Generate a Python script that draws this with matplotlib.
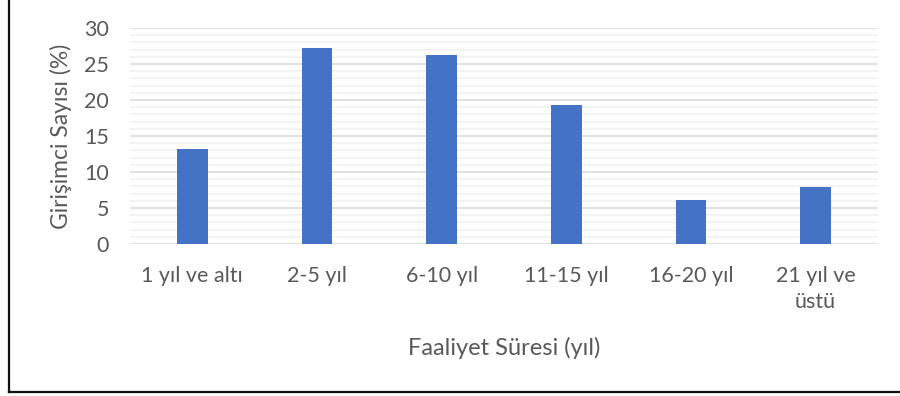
import numpy as np
import matplotlib.pyplot as plt
from matplotlib.lines import Line2D
from matplotlib.ticker import MultipleLocator

plt.rcParams['font.family'] = ['Lato', 'DejaVu Sans']

categories = ["1 yıl ve altı", "2-5 yıl", "6-10 yıl", "11-15 yıl", "16-20 yıl", "21 yıl ve\nüstü"]
values = [13.2, 27.2, 26.3, 19.3, 6.1, 7.9]

text_color = "#595959"

fig = plt.figure(figsize=(9, 3.96), dpi=100)
ax = fig.add_axes([130 / 900, 152 / 396, 748 / 900, 216 / 396])

x = np.arange(len(categories))
ax.bar(x, values, width=0.245, color="#4472C4", zorder=3)

ax.set_xlim(-0.5, len(categories) - 0.5)
ax.set_ylim(0, 30)
ax.yaxis.set_major_locator(MultipleLocator(5))
ax.yaxis.set_minor_locator(MultipleLocator(1))
ax.grid(axis="y", which="major", color="#d9d9d9", linewidth=1.1, zorder=1)
ax.grid(axis="y", which="minor", color="#f0f0f0", linewidth=1.1, zorder=0)

for side in ["top", "right", "left", "bottom"]:
    ax.spines[side].set_visible(False)

ax.set_xticks(x)
ax.set_xticklabels(categories, linespacing=1.35, va="top")
ax.tick_params(axis="both", which="both", length=0, labelsize=15.5, colors=text_color)
ax.tick_params(axis="y", pad=15)
ax.tick_params(axis="x", pad=16)

ax.set_ylabel("Girişimci Sayısı (%)", fontsize=16.5, color=text_color)
ax.set_xlabel("Faaliyet Süresi (yıl)", fontsize=17, color=text_color)
ax.yaxis.set_label_coords(-0.077, 0.5)
ax.xaxis.set_label_coords(0.5, -0.43)

# outer frame, only the left and bottom edges are drawn
fig.add_artist(Line2D([8.5 / 900, 8.5 / 900], [1, 4.5 / 396], transform=fig.transFigure,
                      color="#111111", linewidth=1.6))
fig.add_artist(Line2D([8.5 / 900, 1], [4.5 / 396, 4.5 / 396], transform=fig.transFigure,
                      color="#111111", linewidth=1.6))

fig.savefig("out.png", dpi=100)
